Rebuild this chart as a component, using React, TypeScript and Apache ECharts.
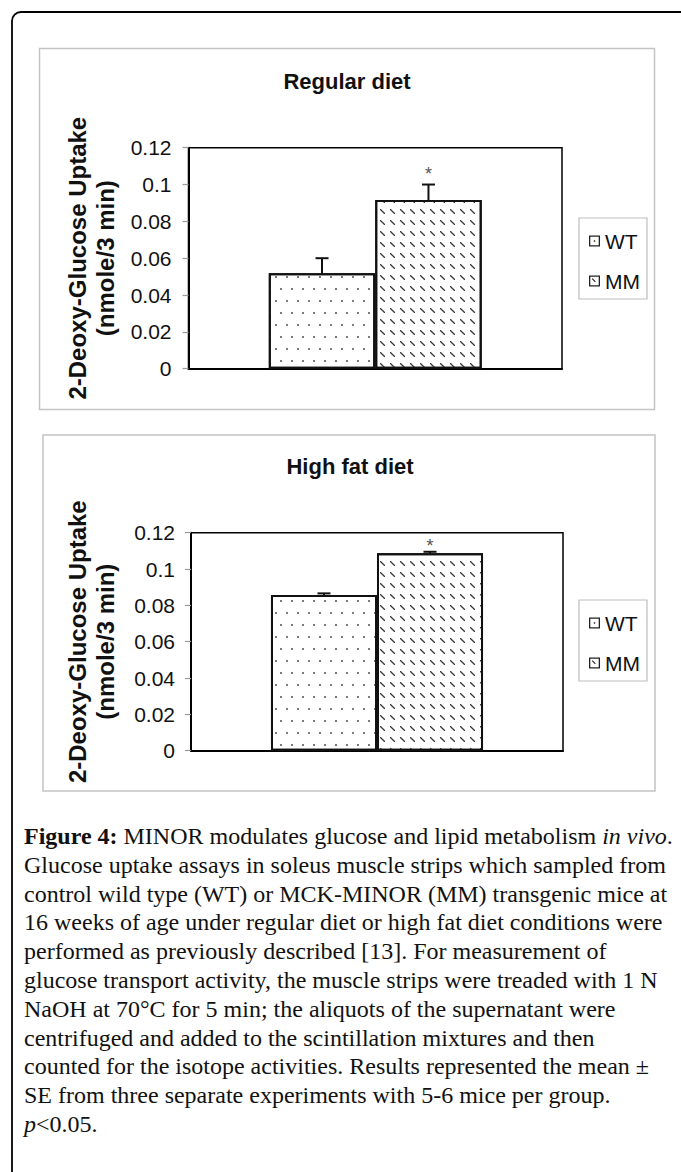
import React, { useEffect, useRef } from 'react';
import * as echarts from 'echarts';

// ---------- data ----------
const categories = [''];
const groupNames = ['WT', 'MM'];
const regularMeans = [0.0518, 0.0916];
const regularErrors = [0.0082, 0.0084];
const regularStarAt = [-1, 0.1058];
const highFatMeans = [0.0857, 0.1087];
const highFatErrors = [0.0009, 0.0008];
const highFatStarAt = [-1, 0.1125];
const yMin = 0;
const yMax = 0.12;
const yStep = 0.02;
const panelTitles = ['Regular diet', 'High fat diet'];
const yAxisName = '2-Deoxy-Glucose Uptake\n(nmole/3 min)';
const captionLines = [
  '{b|Figure 4:} MINOR modulates glucose and lipid metabolism {i|in vivo}.',
  'Glucose uptake assays in soleus muscle strips which sampled from',
  'control wild type (WT) or MCK-MINOR (MM) transgenic mice at',
  '16 weeks of age under regular diet or high fat diet conditions were',
  'performed as previously described [13]. For measurement of',
  'glucose transport activity, the muscle strips were treaded with 1 N',
  'NaOH at 70\u00B0C for 5 min; the aliquots of the supernatant were',
  'centrifuged and added to the scintillation mixtures and then',
  'counted for the isotope activities. Results represented the mean \u00B1',
  'SE from three separate experiments with 5-6 mice per group.',
  '{i|p}<0.05.',
];

// ---------- styling ----------
const SANS = 'Liberation Sans, Arial, sans-serif';
const SERIF = 'Liberation Serif, Times New Roman, serif';
const BAR_FRAC = 0.285;

const WT_ICON = 'path://M0,0H11V11H0Z M1.3,1.3V9.7H9.7V1.3Z M4.8,4.8H6.2V6.2H4.8Z';
const MM_ICON = 'path://M0,0H11V11H0Z M1.3,1.3V9.7H9.7V1.3Z M2.8,3.6L3.6,2.8L6.8,6L6,6.8Z';

const wtDecal = {
  symbol: 'rect',
  symbolSize: 1,
  color: '#7a7a7a',
  backgroundColor: '#ffffff',
  dashArrayX: [[1.5, 8.5], [0, 5, 1.5, 3.5]],
  dashArrayY: [1.5, 9.5],
};
const mmDecal = {
  symbol: 'path://M0,0L1.8,0L10,8.2L10,10L8.2,10L0,1.8Z',
  symbolSize: 1,
  color: '#3a3a3a',
  backgroundColor: '#ffffff',
  dashArrayX: [5, 5],
  dashArrayY: [5, 6],
};

function makeErrorRenderer() {
  return (params: any, api: any) => {
    const cat = api.value(0);
    const mean = api.value(1);
    const err = api.value(2);
    const idx = api.value(3);
    const star = api.value(4);
    const base = api.coord([cat, mean]);
    const band = api.size([1, 0])[0];
    const x = base[0] + (idx === 0 ? -1 : 1) * band * BAR_FRAC / 2;
    const yTop = api.coord([cat, mean + err])[1];
    const children: any[] = [
      { type: 'line', shape: { x1: x, y1: base[1], x2: x, y2: yTop }, style: { stroke: '#111', lineWidth: 2 } },
      { type: 'line', shape: { x1: x - 6.5, y1: yTop, x2: x + 6.5, y2: yTop }, style: { stroke: '#111', lineWidth: 2 } },
    ];
    if (star >= 0) {
      children.push({
        type: 'text',
        x,
        y: api.coord([cat, star])[1],
        style: { text: '*', font: '18px ' + SANS, fill: '#555', align: 'center', verticalAlign: 'middle' },
      });
    }
    return { type: 'group', children };
  };
}

function panelSeries(gridIdx: number, means: number[], errs: number[], stars: number[]) {
  return [
    {
      type: 'bar', name: groupNames[0], xAxisIndex: gridIdx, yAxisIndex: gridIdx,
      data: [means[0]], barWidth: (BAR_FRAC * 100) + '%', barGap: '0%',
      itemStyle: { color: '#ffffff', borderColor: '#111', borderWidth: 2, decal: wtDecal },
      emphasis: { disabled: true },
    },
    {
      type: 'bar', name: groupNames[1], xAxisIndex: gridIdx, yAxisIndex: gridIdx,
      data: [means[1]], barWidth: (BAR_FRAC * 100) + '%', barGap: '0%',
      itemStyle: { color: '#ffffff', borderColor: '#111', borderWidth: 2, decal: mmDecal },
      emphasis: { disabled: true },
    },
    {
      type: 'custom', name: 'error' + gridIdx, xAxisIndex: gridIdx, yAxisIndex: gridIdx,
      data: groupNames.map((g, i) => [0, means[i], errs[i], i, stars[i]]),
      renderItem: makeErrorRenderer(),
      z: 5,
      silent: true,
    },
  ];
}

function xAxisDef(gridIdx: number) {
  return {
    type: 'category', gridIndex: gridIdx, data: categories,
    axisLine: { lineStyle: { color: '#000', width: 2 } },
    axisTick: { show: false }, axisLabel: { show: false },
  };
}

function yAxisDef(gridIdx: number, margin: number, gap: number) {
  return {
    type: 'value', gridIndex: gridIdx, min: yMin, max: yMax, interval: yStep,
    axisLine: { show: true, lineStyle: { color: '#000', width: 2 } },
    axisTick: { show: true, length: 6, lineStyle: { color: '#999', width: 1.2 } },
    axisLabel: { fontFamily: SANS, fontSize: 21, color: '#111', margin },
    splitLine: { show: false },
    name: yAxisName,
    nameLocation: 'middle',
    nameRotate: 90,
    nameGap: gap,
    nameTextStyle: { fontFamily: SANS, fontSize: 24, fontWeight: 'bold', color: '#111', lineHeight: 28 },
  };
}

function legendDef(top: number) {
  return {
    data: [{ name: 'WT', icon: WT_ICON }, { name: 'MM', icon: MM_ICON }],
    orient: 'vertical', left: 579, top,
    itemWidth: 11, itemHeight: 11, itemGap: 18,
    padding: [12, 7, 7, 10],
    borderColor: '#bdbdbd', borderWidth: 1.2,
    textStyle: { fontFamily: SANS, fontSize: 21, color: '#111', lineHeight: 22 },
    itemStyle: { color: '#222', borderWidth: 0, decal: 'none' },
    selectedMode: false,
  };
}

export default function App() {
  const ref = useRef<HTMLDivElement>(null);
  useEffect(() => {
    document.body.style.margin = '0';
    if (!ref.current) return;
    const chart = echarts.init(ref.current, undefined, { renderer: 'svg' });
    const graphics: any[] = [
      { type: 'rect', shape: { x: 12, y: 12, width: 740, height: 1240, r: 9 }, style: { fill: 'none', stroke: '#000', lineWidth: 1.8 }, silent: true },
      { type: 'rect', shape: { x: 39.5, y: 48.5, width: 615, height: 361 }, style: { fill: 'none', stroke: '#c4c4c4', lineWidth: 1.5 }, silent: true },
      { type: 'rect', shape: { x: 43, y: 435, width: 612, height: 356 }, style: { fill: 'none', stroke: '#c4c4c4', lineWidth: 1.5 }, silent: true },
      { type: 'text', x: 347, y: 81, style: { text: panelTitles[0], font: 'bold 22px ' + SANS, fill: '#111', align: 'center', verticalAlign: 'middle' }, silent: true },
      { type: 'text', x: 350, y: 466, style: { text: panelTitles[1], font: 'bold 22px ' + SANS, fill: '#111', align: 'center', verticalAlign: 'middle' }, silent: true },
    ];
    captionLines.forEach((line, i) => {
      graphics.push({
        type: 'text', x: 24, y: 836 + i * 28.8, silent: true,
        style: {
          text: line, fontFamily: SERIF, fontSize: 24, fill: '#111',
          align: 'left', verticalAlign: 'middle',
          rich: {
            b: { fontFamily: SERIF, fontSize: 24, fontWeight: 'bold', fill: '#111' },
            i: { fontFamily: SERIF, fontSize: 24, fontStyle: 'italic', fill: '#111' },
          },
        },
      });
    });
    chart.setOption({
      animation: false,
      backgroundColor: '#ffffff',
      grid: [
        { left: 188.5, top: 147.7, width: 373.5, height: 221, show: true, borderColor: '#000', borderWidth: 1.5, backgroundColor: 'transparent' },
        { left: 191, top: 532.7, width: 372, height: 218, show: true, borderColor: '#000', borderWidth: 1.5, backgroundColor: 'transparent' },
      ],
      xAxis: [xAxisDef(0), xAxisDef(1)],
      yAxis: [yAxisDef(0, 17, 69), yAxisDef(1, 16, 72)],
      legend: [legendDef(218), legendDef(600)],
      series: [
        ...panelSeries(0, regularMeans, regularErrors, regularStarAt),
        ...panelSeries(1, highFatMeans, highFatErrors, highFatStarAt),
      ],
      graphic: graphics,
    });
    return () => chart.dispose();
  }, []);
  return <div ref={ref} style={{ position: 'absolute', left: 0, top: 0, width: 681, height: 1172 }} />;
}
